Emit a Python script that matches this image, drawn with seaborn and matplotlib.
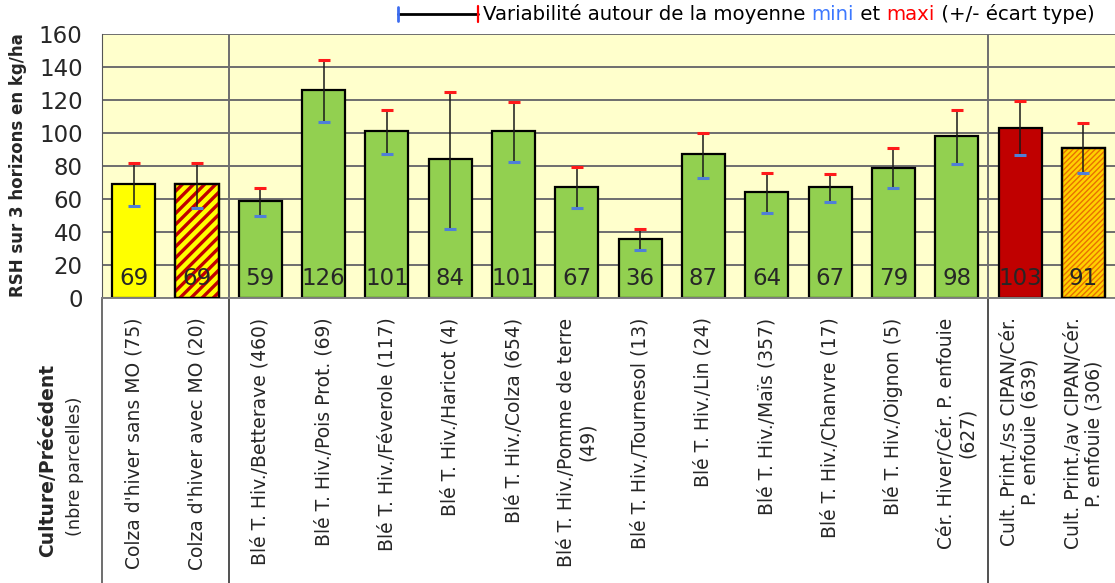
import matplotlib
matplotlib.use("Agg")
import matplotlib.pyplot as plt
import matplotlib.transforms as mtransforms
from matplotlib.lines import Line2D
from matplotlib.patches import Rectangle
import seaborn as sns
import pandas as pd

categories = [
    "Colza d'hiver sans MO (75)",
    "Colza d'hiver avec MO (20)",
    "Blé T. Hiv./Betterave (460)",
    "Blé T. Hiv./Pois Prot. (69)",
    "Blé T. Hiv./Féverole (117)",
    "Blé T. Hiv./Haricot (4)",
    "Blé T. Hiv./Colza (654)",
    "Blé T. Hiv./Pomme de terre\n(49)",
    "Blé T. Hiv./Tournesol (13)",
    "Blé T. Hiv./Lin (24)",
    "Blé T. Hiv./Maïs (357)",
    "Blé T. Hiv./Chanvre (17)",
    "Blé T. Hiv./Oignon (5)",
    "Cér. Hiver/Cér. P. enfouie\n(627)",
    "Cult. Print./ss CIPAN/Cér.\nP. enfouie (639)",
    "Cult. Print./av CIPAN/Cér.\nP. enfouie (306)",
]
moyenne = [69, 69, 59, 126, 101, 84, 101, 67, 36, 87, 64, 67, 79, 98, 103, 91]
mini = [56, 54.5, 50, 106.5, 87, 42, 82.5, 54.5, 29, 73, 51.5, 58, 66.5, 81, 86.5, 76]
maxi = [82, 82, 66.5, 144, 114, 125, 119, 79.5, 42, 100, 76, 75, 91, 114, 119.5, 106]
couleurs = ["#FFFF00", "#FFFF00", "#92D050", "#92D050", "#92D050", "#92D050",
            "#92D050", "#92D050", "#92D050", "#92D050", "#92D050", "#92D050",
            "#92D050", "#92D050", "#C00000", "#FFD000"]
# barres hachurées : index -> (motif, couleur des hachures, épaisseur)
hachures = {1: ("///", "#C00000", 2.4), 15: ("//////", "#E87000", 1.0)}
separateurs = [1.5, 13.5]

df = pd.DataFrame({"culture": categories, "rsh": moyenne})

sns.set_style("white")
plt.rcParams["font.family"] = ["DejaVu Sans"]

fig = plt.figure(figsize=(11.15, 5.83), dpi=100)
ax = fig.add_axes([0.0915, 1 - 298 / 583, 1 - 0.0915, (298 - 34) / 583])
ax.set_facecolor("#FFFFCC")

sns.barplot(data=df, x="culture", y="rsh", hue="culture", palette=couleurs,
            saturation=1, legend=False, width=0.68, edgecolor="black",
            linewidth=1.6, ax=ax, zorder=2)

# hachures par-dessus le fond, puis contour noir
for i, (motif, coul, ep) in hachures.items():
    p = ax.patches[i]
    with plt.rc_context({"hatch.linewidth": ep}):
        h = Rectangle(p.get_xy(), p.get_width(), p.get_height(), facecolor="none",
                      edgecolor=coul, linewidth=0, hatch=motif, zorder=2.5)
    if hasattr(h, "set_hatch_linewidth"):
        h.set_hatch_linewidth(ep)
    ax.add_patch(h)
    ax.add_patch(Rectangle(p.get_xy(), p.get_width(), p.get_height(),
                           fill=False, edgecolor="black", linewidth=1.6, zorder=3))

# écart type : trait + taquets mini (bleu) / maxi (rouge)
xs = list(range(len(categories)))
ax.vlines(xs, mini, maxi, color="#1a1a1a", linewidth=1.1, zorder=4)
ax.plot(xs, mini, ls="none", marker="_", ms=8, mew=2.2, color="#4F7FD8", zorder=5)
ax.plot(xs, maxi, ls="none", marker="_", ms=8, mew=2.2, color="#FF1A1A", zorder=5)

# valeurs dans les barres
for x, v in zip(xs, moyenne):
    ax.text(x, 8, f"{v}", ha="center", va="baseline", fontsize=16.5, zorder=6)

ax.set_ylim(0, 160)
ax.set_xlim(-0.5, len(categories) - 0.5)
ax.set_yticks(range(0, 161, 20))
ax.yaxis.grid(True, color="#6E6E6E", linewidth=1.4)
ax.set_axisbelow(True)
ax.set_xlabel("")
ax.set_ylabel("")

for s in ["top", "right"]:
    ax.spines[s].set_visible(False)
ax.spines["left"].set_color("#555555")
ax.spines["bottom"].set_color("#7F7F7F")
ax.spines["bottom"].set_linewidth(1.4)

ax.tick_params(axis="y", direction="out", length=5, width=1, color="#555555",
               labelsize=16.5, pad=9)
ax.set_xticks(xs)
ax.set_xticklabels(categories, rotation=90, fontsize=13.5, va="top", ha="center",
                   multialignment="center", linespacing=1.1)
ax.tick_params(axis="x", length=0, pad=14)
# petits traits entre catégories
ax.set_xticks([i + 0.5 for i in range(len(categories) - 1)], minor=True)
ax.tick_params(axis="x", which="minor", direction="inout", length=12,
               width=1, color="#333333")

# séparateurs de groupes
trans = mtransforms.blended_transform_factory(ax.transData, ax.transAxes)
bas = -(583 - 298) / (298 - 34)
for sx in separateurs:
    ax.axvline(sx, color="#6E6E6E", linewidth=1.4, zorder=1)
    ax.add_line(Line2D([sx, sx], [bas, 0], transform=trans, color="#333333",
                       linewidth=1.2, clip_on=False))
ax.add_line(Line2D([-0.5, -0.5], [bas, 0], transform=trans, color="#555555",
                   linewidth=1.2, clip_on=False))

# titres d'axes
fig.text(18 / 1115, 1 - 165 / 583, "RSH sur 3 horizons en kg/ha", rotation=90,
         ha="center", va="center", fontsize=12, fontweight="bold")
fig.text(48 / 1115, 1 - 460 / 583, "Culture/Précédent", rotation=90,
         ha="center", va="center", fontsize=13.5, fontweight="bold")
fig.text(75 / 1115, 1 - 466 / 583, "(nbre parcelles)", rotation=90,
         ha="center", va="center", fontsize=12.7)

# légende de l'écart type
yl = 1 - 14 / 583
fig.add_artist(Line2D([398 / 1115, 478 / 1115], [yl, yl], color="black", linewidth=2))
fig.add_artist(Line2D([398 / 1115, 398 / 1115], [yl - 7 / 583, yl + 7 / 583],
                      color="#3C6CF0", linewidth=2))
fig.add_artist(Line2D([478 / 1115, 478 / 1115], [yl - 8 / 583, yl + 8 / 583],
                      color="#FF0000", linewidth=1.6))
morceaux = [("Variabilité autour de la moyenne ", "black"), ("mini", "#3C78FF"),
            (" et ", "black"), ("maxi", "#FF0000"), (" (+/- écart type)", "black")]
renderer = fig.canvas.get_renderer()
xpos = 483 / 1115
for txt, coul in morceaux:
    t = fig.text(xpos, yl, txt, color=coul, fontsize=14.2, ha="left", va="center")
    bb = t.get_window_extent(renderer)
    xpos += bb.width / fig.bbox.width

fig.savefig("out.png", dpi=100)
